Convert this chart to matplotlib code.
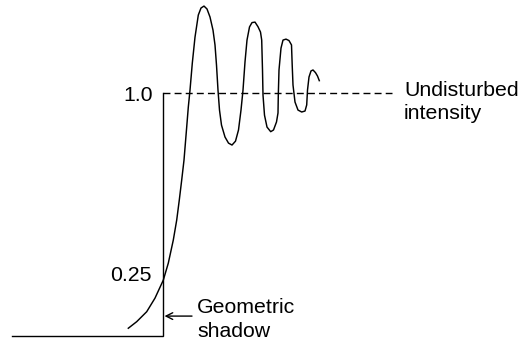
import matplotlib
matplotlib.use("Agg")
import matplotlib.pyplot as plt

# data: intensity behind a straight edge (x = distance from the geometric shadow edge)
x_curve = [-0.347, -0.263, -0.163, -0.08, 0.003, 0.053, 0.103, 0.137, 0.163, 0.187,
           0.21, 0.237, 0.253, 0.27, 0.293, 0.32, 0.353, 0.38, 0.41, 0.44,
           0.47, 0.50, 0.52, 0.535, 0.55, 0.565, 0.585, 0.62, 0.655, 0.69,
           0.725, 0.755, 0.78, 0.80, 0.82, 0.84, 0.865, 0.89, 0.92, 0.95,
           0.975, 0.987, 0.995, 1.00, 1.015, 1.04, 1.077, 1.105, 1.135, 1.15,
           1.153, 1.16, 1.18, 1.20, 1.23, 1.26, 1.285, 1.292, 1.30, 1.32,
           1.35, 1.387, 1.42, 1.437, 1.445, 1.46, 1.48, 1.50, 1.525, 1.545, 1.563]
intensity = [0.032, 0.059, 0.100, 0.156, 0.230, 0.300, 0.395, 0.477, 0.560, 0.642,
             0.724, 0.860, 0.942, 1.012, 1.123, 1.230, 1.321, 1.350, 1.358, 1.346,
             1.313, 1.259, 1.198, 1.115, 1.012, 0.930, 0.868, 0.819, 0.794, 0.786,
             0.802, 0.848, 0.930, 1.012, 1.128, 1.218, 1.272, 1.290, 1.292, 1.273,
             1.251, 1.218, 1.095, 0.992, 0.909, 0.860, 0.841, 0.848, 0.881, 0.918,
             0.992, 1.095, 1.185, 1.218, 1.222, 1.216, 1.198, 1.115, 1.033, 0.963,
             0.930, 0.922, 0.926, 0.951, 1.012, 1.066, 1.091, 1.095, 1.084, 1.070, 1.051]

# geometric (sharp) shadow profile
x_step = [-1.51, 0.0, 0.0]
y_step = [0.0, 0.0, 1.0]
x_undisturbed = [0.0, 2.29]
y_undisturbed = [1.0, 1.0]

fig = plt.figure(figsize=(5.19, 3.45), dpi=100)
ax = fig.add_axes([0, 0, 1, 1])
plt.rcParams['font.family'] = ['Liberation Sans', 'DejaVu Sans']

ax.plot(x_step, y_step, color='black', lw=1.0, solid_joinstyle='miter')
ax.plot(x_undisturbed, y_undisturbed, color='black', lw=1.0, dashes=(5, 3))
ax.plot(x_curve, intensity, color='black', lw=1.05, solid_joinstyle='round')

fs = 15.3
ax.text(-0.10, 0.969, '1.0', ha='right', va='baseline', fontsize=fs)
ax.text(-0.11, 0.226, '0.25', ha='right', va='baseline', fontsize=fs)
ax.text(2.41, 0.988, 'Undisturbed', ha='left', va='baseline', fontsize=fs)
ax.text(2.41, 0.893, 'intensity', ha='left', va='baseline', fontsize=fs)
ax.text(0.34, 0.096, 'Geometric', ha='left', va='baseline', fontsize=fs)
ax.text(0.34, -0.003, 'shadow', ha='left', va='baseline', fontsize=fs)
ax.annotate('', xy=(0.015, 0.082), xytext=(0.29, 0.082),
            arrowprops=dict(arrowstyle='->', color='black', lw=1.0,
                            shrinkA=0, shrinkB=0, mutation_scale=12))

ax.set_xlim(-1.63, 3.56)
ax.set_ylim(-0.037, 1.383)
ax.axis('off')

fig.savefig('out.png', dpi=100)
